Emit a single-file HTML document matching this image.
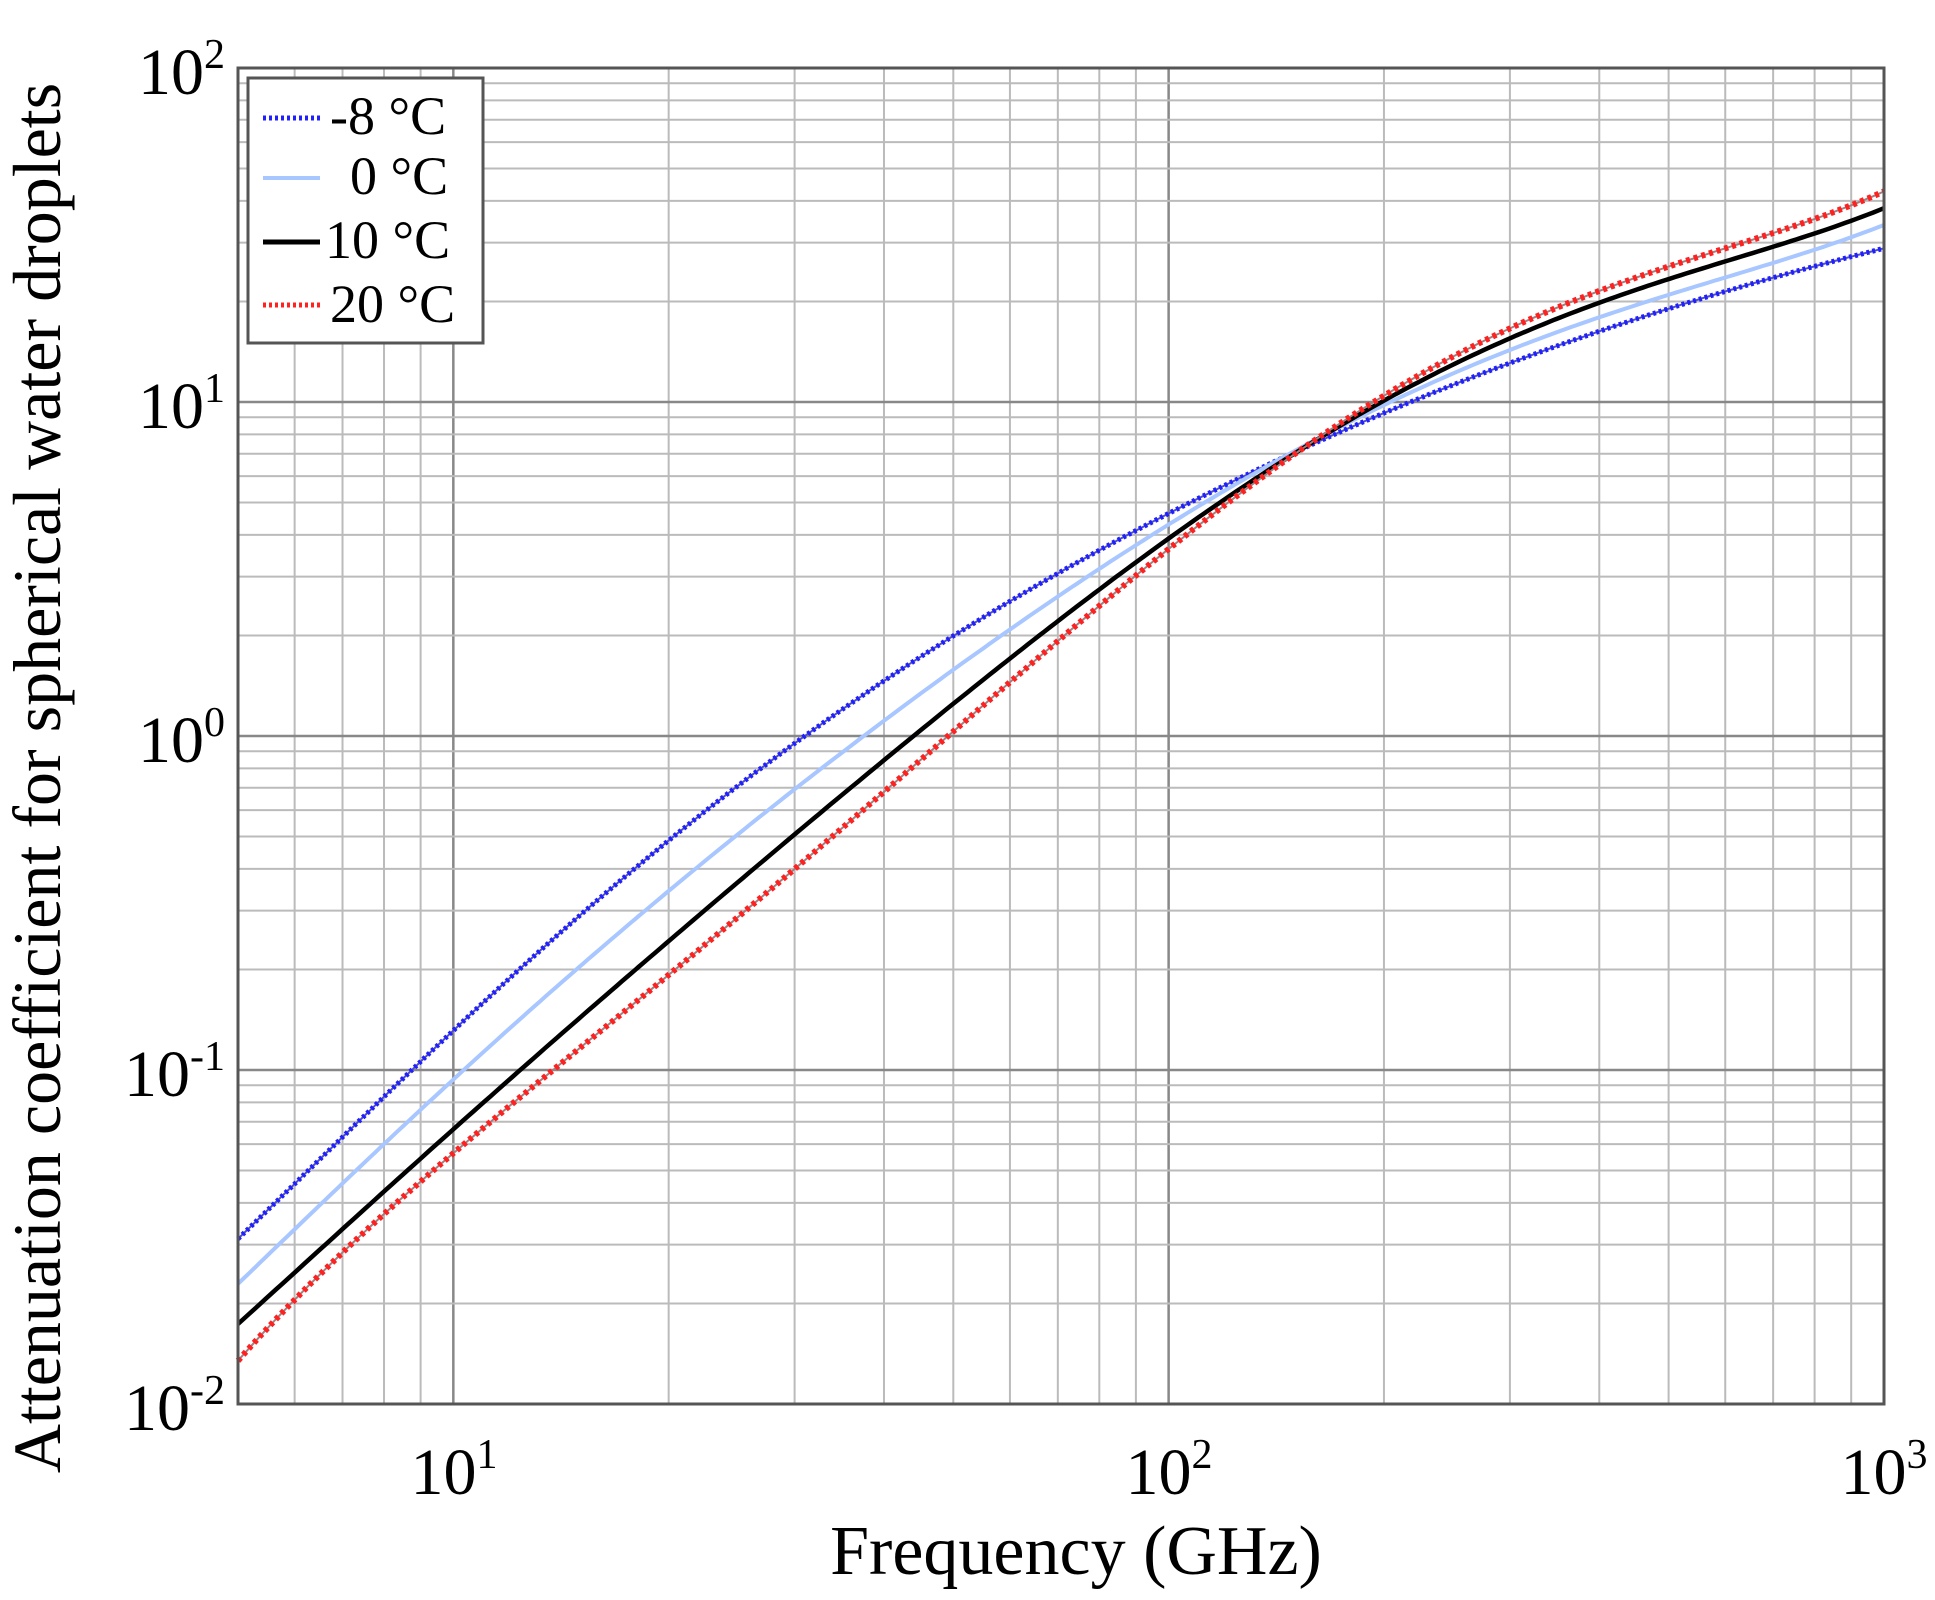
<!DOCTYPE html>
<html><head><meta charset="utf-8"><style>
html,body{margin:0;padding:0;background:#fff;}
svg{display:block;font-family:"Liberation Serif",serif;}
</style></head><body>
<svg id="s" width="1935" height="1600" viewBox="0 0 1935 1600" xmlns="http://www.w3.org/2000/svg">
<g id="grid"></g>
<g id="curves"></g>
<rect x="238" y="68" width="1646" height="1336" fill="none" stroke="#555" stroke-width="3"/>
<g font-size="66" fill="#000">
<text x="225" y="94" text-anchor="end">10<tspan dy="-26" font-size="42">2</tspan></text>
<text x="225" y="428" text-anchor="end">10<tspan dy="-26" font-size="42">1</tspan></text>
<text x="225" y="762" text-anchor="end">10<tspan dy="-26" font-size="42">0</tspan></text>
<text x="225" y="1096" text-anchor="end">10<tspan dy="-26" font-size="42">-1</tspan></text>
<text x="225" y="1430" text-anchor="end">10<tspan dy="-26" font-size="42">-2</tspan></text>
<text x="454" y="1494" text-anchor="middle">10<tspan dy="-26" font-size="42">1</tspan></text>
<text x="1169" y="1494" text-anchor="middle">10<tspan dy="-26" font-size="42">2</tspan></text>
<text x="1884" y="1494" text-anchor="middle">10<tspan dy="-26" font-size="42">3</tspan></text>
</g>
<text x="1076" y="1574" text-anchor="middle" font-size="70">Frequency (GHz)</text>
<text transform="translate(60,778) rotate(-90)" text-anchor="middle" font-size="68">Attenuation coefficient for spherical water droplets</text>
<g>
<rect x="248" y="78" width="235" height="265" fill="#fff" stroke="#555" stroke-width="3"/>
<line x1="263" y1="118" x2="320" y2="118" stroke="#2020ff" stroke-width="5" stroke-dasharray="3 3"/>
<line x1="263" y1="178" x2="320" y2="178" stroke="#a8c6ff" stroke-width="4"/>
<line x1="263" y1="242" x2="320" y2="242" stroke="#000" stroke-width="5"/>
<line x1="263" y1="305" x2="320" y2="305" stroke="#ff2020" stroke-width="5" stroke-dasharray="3 3"/>
<g font-size="54">
<text x="330" y="134">-8 °C</text>
<text x="350" y="194">0 °C</text>
<text x="325" y="258">10 °C</text>
<text x="330" y="322">20 °C</text>
</g>
</g>
</svg>
<script>
const NS="http://www.w3.org/2000/svg";
const X=f=>238+(Math.log10(f)-Math.log10(5))*715.3;
const Y=v=>68+(2-v)*334;
const g=document.getElementById('grid');
function ln(x1,y1,x2,y2,c,w){const l=document.createElementNS(NS,'line');l.setAttribute('x1',x1);l.setAttribute('y1',y1);l.setAttribute('x2',x2);l.setAttribute('y2',y2);l.setAttribute('stroke',c);l.setAttribute('stroke-width',w);g.appendChild(l);}
for(let d=0;d<3;d++)for(let k=1;k<10;k++){const f=k*Math.pow(10,d);if(f<=5||f>=1000)continue;const x=X(f);ln(x,68,x,1404,k==1?'#888':'#bbb',k==1?2.5:2);}
for(let d=-2;d<2;d++)for(let k=1;k<10;k++){const v=Math.log10(k)+d;if(d==-2&&k==1)continue;const y=Y(v);ln(238,y,1884,y,k==1?'#888':'#bbb',k==1?2.5:2);}
const fs=[5,10,20,30,50,100,150,200,300,500,1000];
const data=[
 {v:[-1.505,-0.884,-0.31,-0.015,0.28,0.69,0.84,0.96,1.12,1.28,1.46],c:'#2020ff',w:5,d:'3 3',u:'#5050c0'},
 {v:[-1.64,-1.03,-0.46,-0.16,0.19,0.65,0.84,0.99,1.16,1.32,1.53],c:'#a8c6ff',w:4},
 {v:[-1.76,-1.18,-0.61,-0.29,0.08,0.61,0.84,1.0,1.19,1.37,1.58],c:'#000',w:4.5},
 {v:[-1.87,-1.25,-0.72,-0.38,-0.01,0.58,0.83,1.03,1.21,1.41,1.63],c:'#ff2020',w:6,d:'4 4',u:'#a08080'}];
const cg=document.getElementById('curves');
const a0=Math.log10(5),a1=3;
const T=l=>(2*l-a0-a1)/(a1-a0);
function fit(xs,ys,deg){const n=deg+1;const A=[];for(let i=0;i<n;i++){A.push(new Array(n+1).fill(0));}
 for(let k=0;k<xs.length;k++){for(let i=0;i<n;i++){for(let j=0;j<n;j++)A[i][j]+=Math.pow(xs[k],i+j);A[i][n]+=ys[k]*Math.pow(xs[k],i);}}
 for(let i=0;i<n;i++){let p=i;for(let r=i+1;r<n;r++)if(Math.abs(A[r][i])>Math.abs(A[p][i]))p=r;[A[i],A[p]]=[A[p],A[i]];
  for(let r=0;r<n;r++){if(r==i)continue;const f=A[r][i]/A[i][i];for(let c=i;c<=n;c++)A[r][c]-=f*A[i][c];}}
 return A.map((r,i)=>r[n]/r[i]);}
data.forEach(s=>{
 const xs=fs.map(f=>T(Math.log10(f)));
 const co=fit(xs,s.v,6);
 const pts=[];
 for(let i=0;i<=300;i++){const l=a0+(a1-a0)*i/300;const t=T(l);let v=0;co.forEach((c,j)=>v+=c*Math.pow(t,j));
  pts.push(X(Math.pow(10,l)).toFixed(1)+','+Y(v).toFixed(1));}
 const mk=(c,w,d)=>{const p=document.createElementNS(NS,'polyline');p.setAttribute('points',pts.join(' '));p.setAttribute('fill','none');p.setAttribute('stroke',c);p.setAttribute('stroke-width',w);if(d)p.setAttribute('stroke-dasharray',d);cg.appendChild(p);};
 if(s.u)mk(s.u,2,null);
 mk(s.c,s.w,s.d);
});
</script>
</body></html>
